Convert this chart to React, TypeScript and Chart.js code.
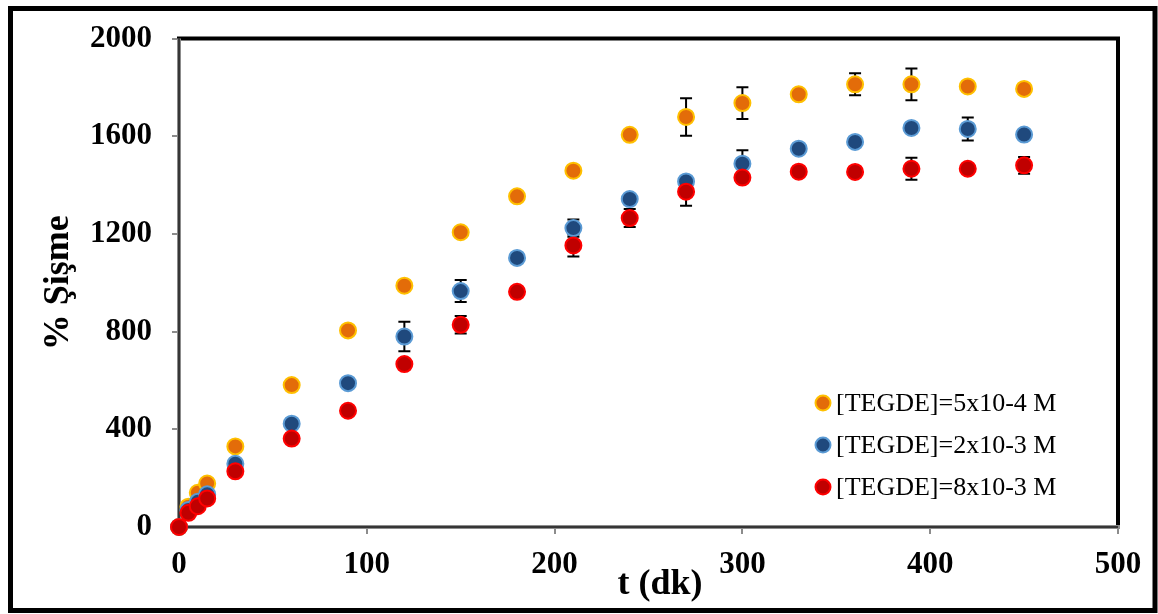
import React, { useEffect, useRef } from "react";
import { Chart, registerables } from "chart.js";

Chart.register(...registerables);

// Time points (minutes)
const times = [0, 5, 10, 15, 30, 60, 90, 120, 150, 180, 210, 240, 270, 300, 330, 360, 390, 420, 450];

// Swelling (%) for each crosslinker concentration
const swellLow = [0, 83, 140, 178, 330, 581, 805, 988, 1207, 1354, 1459, 1606, 1679, 1736, 1772, 1813, 1813, 1804, 1794];
const swellMid = [0, 70, 103, 134, 259, 423, 589, 780, 966, 1102, 1224, 1343, 1415, 1488, 1549, 1577, 1634, 1630, 1607];
const swellHigh = [0, 58, 85, 117, 228, 362, 476, 667, 828, 963, 1153, 1265, 1373, 1431, 1455, 1454, 1467, 1467, 1481];

// Standard deviations (0 = no error bar drawn)
const errLow = [0, 0, 0, 0, 0, 0, 0, 0, 0, 0, 0, 0, 77, 65, 0, 45, 65, 0, 0];
const errMid = [0, 0, 0, 0, 0, 0, 0, 60, 45, 0, 35, 0, 0, 55, 0, 0, 0, 47, 0];
const errHigh = [0, 0, 0, 0, 0, 0, 0, 0, 36, 0, 45, 37, 57, 0, 0, 0, 45, 0, 34];

const seriesLabels = ["[TEGDE]=5x10-4 M", "[TEGDE]=2x10-3 M", "[TEGDE]=8x10-3 M"];

const xTicks = [0, 100, 200, 300, 400, 500];
const yTicks = [0, 400, 800, 1200, 1600, 2000];

const xTitle = "t (dk)";
const yTitle = "% Şişme";

const SERIF = '"Liberation Serif", "Times New Roman", serif';

const framePlugin = {
  id: "frameAndErrors",
  beforeDatasetsDraw(chart: any) {
    const { ctx, chartArea, scales } = chart;
    const { left, right, top, bottom } = chartArea;
    ctx.save();
    // plot frame: grey/black axes at left & bottom, heavy black at top & right
    ctx.lineCap = "butt";
    ctx.strokeStyle = "#000";
    ctx.lineWidth = 4;
    ctx.beginPath();
    ctx.moveTo(left - 2, top);
    ctx.lineTo(right + 2, top);
    ctx.moveTo(right, top);
    ctx.lineTo(right, bottom);
    ctx.stroke();
    ctx.strokeStyle = "#8c8c8c";
    ctx.lineWidth = 4;
    ctx.beginPath();
    ctx.moveTo(left, top);
    ctx.lineTo(left, bottom + 2);
    ctx.moveTo(left - 2, bottom);
    ctx.lineTo(right + 2, bottom);
    ctx.stroke();
    ctx.strokeStyle = "#1a1a1a";
    ctx.lineWidth = 1.5;
    ctx.beginPath();
    ctx.moveTo(left, top);
    ctx.lineTo(left, bottom);
    ctx.lineTo(right, bottom);
    ctx.stroke();

    // error bars
    ctx.strokeStyle = "#000";
    ctx.lineWidth = 2;
    chart.data.datasets.forEach((ds: any, i: number) => {
      const meta = chart.getDatasetMeta(i);
      const errs: number[] = ds.errors || [];
      meta.data.forEach((pt: any, j: number) => {
        const e = errs[j];
        if (!e) return;
        const v = ds.data[j].y;
        const yT = scales.y.getPixelForValue(v + e);
        const yB = scales.y.getPixelForValue(v - e);
        const x = pt.x;
        ctx.beginPath();
        ctx.moveTo(x, yT);
        ctx.lineTo(x, yB);
        ctx.moveTo(x - 6, yT);
        ctx.lineTo(x + 6, yT);
        ctx.moveTo(x - 6, yB);
        ctx.lineTo(x + 6, yB);
        ctx.stroke();
      });
    });
    ctx.restore();
  },
  afterDraw(chart: any) {
    const { ctx, width, height } = chart;
    ctx.save();
    // outer frame
    ctx.strokeStyle = "#000";
    ctx.lineWidth = 5;
    ctx.strokeRect(10.5, 8.5, width - 1 - 10.5 - 2, height - 8.5 - 3.5);

    // x-axis title
    ctx.fillStyle = "#000";
    ctx.font = `bold 36px ${SERIF}`;
    ctx.textAlign = "center";
    ctx.textBaseline = "middle";
    ctx.fillText(xTitle, 660, 585);

    // legend inside plot area
    const rowsY = [403, 445, 487];
    chart.data.datasets.forEach((ds: any, i: number) => {
      const y = rowsY[i];
      ctx.beginPath();
      ctx.arc(823, y, 7.5, 0, Math.PI * 2);
      ctx.fillStyle = ds.backgroundColor;
      ctx.fill();
      ctx.lineWidth = 2;
      ctx.strokeStyle = ds.borderColor;
      ctx.stroke();
      ctx.fillStyle = "#000";
      ctx.font = `26px ${SERIF}`;
      ctx.textAlign = "left";
      ctx.textBaseline = "middle";
      ctx.fillText(ds.label, 836, y + 1);
    });
    ctx.restore();
  },
};

function toPoints(ys: number[]) {
  return times.map((t, i) => ({ x: t, y: ys[i] }));
}

export default function App() {
  const canvasRef = useRef<HTMLCanvasElement | null>(null);

  useEffect(() => {
    const canvas = canvasRef.current;
    if (!canvas) return;
    const mk = (label: string, ys: number[], errs: number[], fill: string, border: string, order: number) => ({
      label,
      data: toPoints(ys),
      errors: errs,
      backgroundColor: fill,
      borderColor: border,
      borderWidth: 2,
      pointRadius: 8,
      pointHoverRadius: 8,
      showLine: false,
      clip: false,
      order,
    });
    const tickFont = { family: SERIF, size: 31, weight: "bold" };
    const chart = new Chart(canvas, {
      type: "scatter",
      data: {
        datasets: [
          mk(seriesLabels[0], swellLow, errLow, "#E36C09", "#FFC000", 3),
          mk(seriesLabels[1], swellMid, errMid, "#1F497D", "#5B9BD5", 2),
          mk(seriesLabels[2], swellHigh, errHigh, "#C00000", "#FF0000", 1),
        ] as any,
      },
      options: {
        animation: false,
        responsive: false,
        maintainAspectRatio: false,
        layout: { padding: { left: 0, right: 40, top: 35, bottom: 0 } },
        plugins: { legend: { display: false }, tooltip: { enabled: false } },
        scales: {
          x: {
            type: "linear",
            min: 0,
            max: 500,
            afterFit: (s: any) => {
              s.height = 87;
            },
            afterBuildTicks: (s: any) => {
              s.ticks = xTicks.map((v) => ({ value: v }));
            },
            ticks: {
              padding: 12,
              color: "#000",
              font: tickFont,
              callback: (v: any) => String(v),
            },
            grid: { drawOnChartArea: false, drawTicks: true, tickLength: 7, color: "#8c8c8c", lineWidth: 2 },
            border: { display: false },
            title: { display: false },
          },
          y: {
            type: "linear",
            min: 0,
            max: 2000,
            afterFit: (s: any) => {
              s.width = 179;
            },
            afterBuildTicks: (s: any) => {
              s.ticks = yTicks.map((v) => ({ value: v }));
            },
            ticks: {
              padding: 20,
              color: "#000",
              font: tickFont,
              callback: (v: any) => String(v),
            },
            grid: { drawOnChartArea: false, drawTicks: true, tickLength: 7, color: "#8c8c8c", lineWidth: 2 },
            border: { display: false },
            title: {
              display: true,
              text: yTitle,
              color: "#000",
              font: { family: SERIF, size: 36, weight: "bold" },
              padding: { top: 37, bottom: 0 },
            },
          },
        },
      } as any,
      plugins: [framePlugin],
    });
    return () => chart.destroy();
  }, []);

  return (
    <div style={{ position: "fixed", left: 0, top: 0, width: 1158, height: 614, background: "#fff" }}>
      <canvas ref={canvasRef} width={1158} height={614} style={{ display: "block" }} />
    </div>
  );
}
